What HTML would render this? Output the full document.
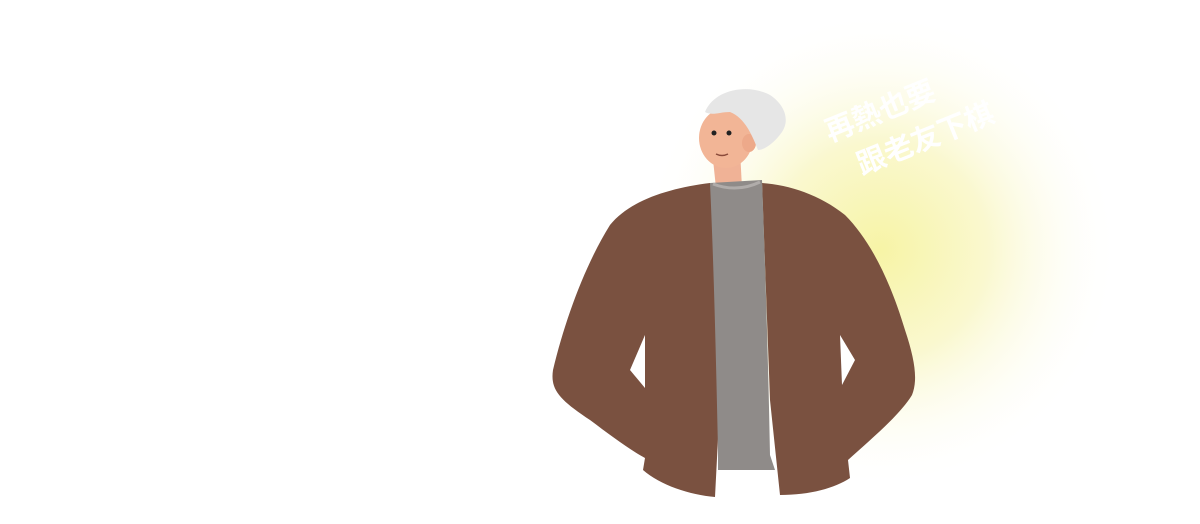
<!DOCTYPE html>
<html><head><meta charset="utf-8"><style>
html,body{margin:0;padding:0;background:#fff;width:1200px;height:524px;overflow:hidden}
svg{display:block}
</style></head><body>
<svg width="1200" height="524" viewBox="0 0 1200 524" xmlns="http://www.w3.org/2000/svg">
<defs>
<radialGradient id="glow" cx="880" cy="250" r="240" gradientUnits="userSpaceOnUse">
<stop offset="0" stop-color="#f7f4a6"/>
<stop offset="0.45" stop-color="#faf8cf"/>
<stop offset="1" stop-color="#ffffff" stop-opacity="0"/>
</radialGradient>
</defs>
<ellipse cx="870" cy="240" rx="270" ry="240" fill="url(#glow)"/>
<g fill="#ffffff" font-family="'Liberation Sans','Noto Sans CJK TC',sans-serif" font-weight="bold" font-size="29">
<text transform="translate(830,142) rotate(-22)">再熱也要</text>
<text transform="translate(862,175) rotate(-22)">跟老友下棋</text>
</g>
<g>
<path d="M712 150 L740 150 L742 188 L716 188 Z" fill="#f0b296"/>
<path fill="#7a5140" d="M710 183 C670 188 630 200 610 225 C585 265 565 320 553 370 C550 390 560 400 590 420 C610 435 630 450 645 458 L643 470 C660 485 690 495 715 497 L720 400 L718 183 Z M762 183 L770 400 L780 495 C810 495 835 488 850 478 L848 460 C870 440 900 415 912 395 C918 380 915 360 905 330 C890 280 870 240 845 215 C820 195 790 185 762 183 Z"/>
<path d="M630 370 L645 335 L645 388 Z" fill="#ffffff"/>
<path d="M840 335 L855 360 L842 385 Z" fill="#ffffff"/>
<path fill="#8f8b89" d="M710 183 L762 180 C765 260 768 350 770 455 L775 470 L718 470 L718 450 C716 360 714 270 710 183 Z"/>
<path d="M713 184 Q737 193 760 182" stroke="#b0acaa" stroke-width="3" fill="none"/>
<ellipse cx="726" cy="138" rx="27" ry="30" fill="#f2b596"/>
<ellipse cx="749" cy="143" rx="7" ry="9" fill="#eda98a"/>
<path fill="#e6e6e6" d="M705 112 C715 88 750 84 770 95 C785 105 790 120 782 132 C775 142 765 150 758 150 C752 135 745 118 730 112 C720 112 712 116 705 112 Z"/>
<circle cx="714" cy="133" r="2.5" fill="#222"/>
<circle cx="729" cy="133" r="2.5" fill="#222"/>
<path d="M716 154 Q722 157 728 154" stroke="#8a4a3a" stroke-width="1.5" fill="none"/>
</g>
</svg>
</body></html>
